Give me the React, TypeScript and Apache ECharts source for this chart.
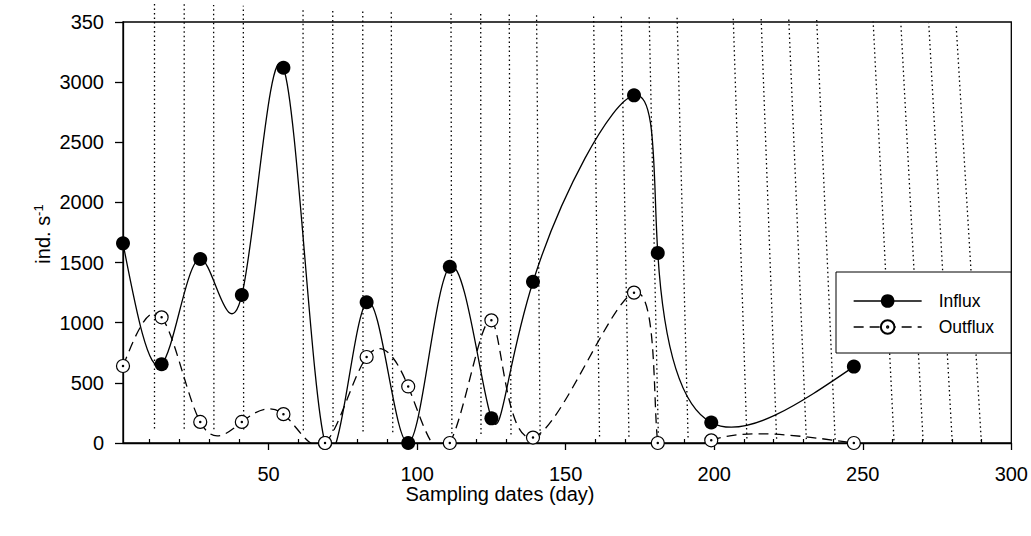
import React, { useEffect, useRef } from "react";
import * as echarts from "echarts";

// Sampling dates (day) and fluxes (ind. s^-1)
const days = [1, 14, 27, 41, 55, 69, 83, 97, 111, 125, 139, 173, 181, 199, 247];
const influx = [1660, 655, 1530, 1230, 3120, 0, 1170, 0, 1465, 205, 1340, 2890, 1580, 170, 635];
const outflux = [640, 1045, 175, 175, 240, 0, 715, 470, 0, 1020, 45, 1250, 0, 22, 0];

// Axis ticks and labels
const xMajorTicks = [50, 100, 150, 200, 250, 300];
const xMinorTicks = [10, 20, 30, 40, 60, 70, 80, 90, 110, 120, 130, 140, 160, 170, 180, 190, 210, 220, 230, 240, 260, 270, 280, 290];
const yTickValues = [0, 500, 1000, 1500, 2000, 2500, 3000, 3500];
const yTickLabels = ["0", "500", "1000", "1500", "2000", "2500", "3000", "350"];

// Dotted reference lines (slightly skewed in the original): bottom day/value, top day/value
const gridBottomDays = [11.6, 21.6, 31.6, 41.6, 61.7, 71.7, 81.8, 91.8, 111.7, 121.5, 131.6, 141.4, 161.4, 171.3, 181.2, 191.2, 211.0, 221.0, 231.0, 240.7, 260.5, 270.3, 280.1, 289.9];
const gridBottomVals = [120, 118, 115, 112, 105, 100, 95, 90, 80, 75, 70, 65, 55, 52, 48, 45, 38, 35, 32, 28, 22, 20, 17, 15];
const gridTopDays = [11.6, 21.6, 31.5, 41.5, 61.6, 71.6, 81.7, 91.3, 111.4, 121.4, 131.0, 140.2, 159.4, 168.7, 178.1, 187.5, 206.4, 215.8, 225.1, 234.5, 253.5, 262.8, 272.2, 281.4];
const gridTopVals = [3654, 3648, 3642, 3635, 3623, 3617, 3610, 3605, 3592, 3586, 3580, 3575, 3563, 3557, 3551, 3545, 3533, 3528, 3522, 3516, 3504, 3498, 3493, 3487];

const FONT = "'Liberation Sans', Arial, Helvetica, sans-serif";
const OUT_SYMBOL =
  "path://M0,10 A10,10 0 1,1 20,10 A10,10 0 1,1 0,10 Z M9,10 A1,1 0 1,1 11,10 A1,1 0 1,1 9,10 Z";

// Derivatives of a natural cubic spline v(t) through knots (ts, vs)
function splineDerivs(ts: number[], vs: number[]): number[] {
  const n = ts.length;
  const h: number[] = [];
  for (let i = 0; i < n - 1; i++) h.push(ts[i + 1] - ts[i]);
  const a = new Array(n).fill(0);
  const b = new Array(n).fill(1);
  const c = new Array(n).fill(0);
  const d = new Array(n).fill(0);
  for (let i = 1; i < n - 1; i++) {
    a[i] = h[i - 1];
    b[i] = 2 * (h[i - 1] + h[i]);
    c[i] = h[i];
    d[i] = 6 * ((vs[i + 1] - vs[i]) / h[i] - (vs[i] - vs[i - 1]) / h[i - 1]);
  }
  const cp = new Array(n).fill(0);
  const dp = new Array(n).fill(0);
  cp[0] = c[0] / b[0];
  dp[0] = d[0] / b[0];
  for (let i = 1; i < n; i++) {
    const m = b[i] - a[i] * cp[i - 1];
    cp[i] = c[i] / m;
    dp[i] = (d[i] - a[i] * dp[i - 1]) / m;
  }
  const M = new Array(n).fill(0);
  M[n - 1] = dp[n - 1];
  for (let i = n - 2; i >= 0; i--) M[i] = dp[i] - cp[i] * M[i + 1];
  const out: number[] = [];
  for (let i = 0; i < n - 1; i++) out.push((vs[i + 1] - vs[i]) / h[i] - (h[i] * (2 * M[i] + M[i + 1])) / 6);
  const l = n - 1;
  out.push((vs[l] - vs[l - 1]) / h[l - 1] + (h[l - 1] * (M[l - 1] + 2 * M[l])) / 6);
  return out;
}

// Parametric (uniform-parameter) spline curve drawn through the series' own points
function curveSeries(ys: number[], dash: number[] | null, z: number) {
  return {
    type: "custom",
    silent: true,
    clip: true,
    z,
    xAxisIndex: 0,
    encode: { x: 0, y: 1 },
    data: days.map((dd, i) => [dd, ys[i]]),
    renderItem: (params: any, api: any) => {
      const i = params.dataIndex;
      if (i >= days.length - 1) return null;
      const pts = days.map((dd, k) => api.coord([dd, ys[k]]));
      const ts = pts.map((_p: number[], k: number) => k);
      const dxs = splineDerivs(ts, pts.map((p: number[]) => p[0]));
      const dys = splineDerivs(ts, pts.map((p: number[]) => p[1]));
      const p0 = pts[i];
      const p1 = pts[i + 1];
      return {
        type: "bezierCurve",
        shape: {
          x1: p0[0], y1: p0[1], x2: p1[0], y2: p1[1],
          cpx1: p0[0] + dxs[i] / 3,
          cpy1: p0[1] + dys[i] / 3,
          cpx2: p1[0] - dxs[i + 1] / 3,
          cpy2: p1[1] - dys[i + 1] / 3,
        },
        style: { stroke: "#000", fill: null, lineWidth: 1.3, lineDash: dash || undefined },
      };
    },
  };
}

export default function App() {
  const ref = useRef<HTMLDivElement>(null);

  useEffect(() => {
    if (!ref.current) return;
    const chart = echarts.init(ref.current, null, { renderer: "svg" });

    const influxData = days.map((d, i) => [d, influx[i]]);
    const outfluxData = days.map((d, i) => [d, outflux[i]]);
    const gridData = gridBottomDays.map((b, i) => [b, gridBottomVals[i], gridTopDays[i], gridTopVals[i]]);

    const option: any = {
      animation: false,
      textStyle: { fontFamily: FONT, color: "#000" },
      grid: {
        left: 123,
        right: 14,
        top: 22,
        bottom: 93,
        show: true,
        borderColor: "#000",
        borderWidth: 1.3,
        backgroundColor: "transparent",
      },
      legend: {
        data: [
          { name: "Influx", lineStyle: { opacity: 1, color: "#000", width: 1.3, type: "solid" } },
          { name: "Outflux", lineStyle: { opacity: 1, color: "#000", width: 1.3, type: [10, 6] } },
        ],
        orient: "vertical",
        left: 836,
        top: 272,
        padding: [20, 17, 17, 17],
        itemWidth: 68,
        itemHeight: 17,
        itemGap: 8,
        backgroundColor: "#fff",
        borderColor: "#000",
        borderWidth: 1,
        borderRadius: 0,
        selectedMode: false,
        textStyle: { fontSize: 17.5, color: "#000", fontFamily: FONT, padding: [0, 0, 0, 12] },
      },
      xAxis: [
        {
          type: "value",
          min: 1,
          max: 300,
          position: "bottom",
          axisLine: { show: true, onZero: false, lineStyle: { color: "#000", width: 1.3 } },
          axisTick: { show: true, customValues: xMajorTicks, length: 7, lineStyle: { color: "#000", width: 1.3 } },
          axisLabel: { customValues: xMajorTicks, fontSize: 20, color: "#000", margin: 21, fontFamily: FONT },
          splitLine: { show: false },
        },
        {
          type: "value",
          min: 1,
          max: 300,
          position: "bottom",
          axisLine: { show: false, onZero: false },
          axisTick: { show: true, inside: true, customValues: xMinorTicks, length: 4, lineStyle: { color: "#000", width: 1.2 } },
          axisLabel: { show: false },
          splitLine: { show: false },
        },
      ],
      yAxis: {
        type: "value",
        min: 0,
        max: 3500,
        interval: 500,
        axisLine: { show: true, lineStyle: { color: "#000", width: 1.3 } },
        axisTick: { show: true, length: 8, lineStyle: { color: "#000", width: 1.3 } },
        axisLabel: {
          fontSize: 20,
          color: "#000",
          margin: 19,
          fontFamily: FONT,
          formatter: (v: number) => {
            const i = yTickValues.indexOf(v);
            return i >= 0 ? yTickLabels[i] : "";
          },
        },
        splitLine: { show: false },
      },
      graphic: [
        {
          type: "text",
          x: 500,
          y: 494,
          style: {
            text: "Sampling dates (day)",
            fontSize: 20,
            fontFamily: FONT,
            fill: "#000",
            align: "center",
            verticalAlign: "middle",
          },
        },
        {
          type: "text",
          x: 43,
          y: 234,
          rotation: Math.PI / 2,
          style: {
            text: "{a|ind. s}{b|-1}",
            align: "center",
            verticalAlign: "middle",
            fill: "#000",
            rich: {
              a: { fontSize: 20, fontFamily: FONT, fill: "#000", lineHeight: 22 },
              b: { fontSize: 13, fontFamily: FONT, fill: "#000", verticalAlign: "top" },
            },
          },
        },
      ],
      series: [
        {
          name: "grid",
          type: "custom",
          silent: true,
          xAxisIndex: 0,
          z: 1,
          clip: false,
          encode: { x: [0, 2], y: [1, 3] },
          data: gridData,
          renderItem: (params: any, api: any) => {
            const p1 = api.coord([api.value(0), api.value(1)]);
            const p2 = api.coord([api.value(2), api.value(3)]);
            return {
              type: "line",
              shape: { x1: p1[0], y1: p1[1], x2: p2[0], y2: p2[1] },
              style: { stroke: "#000", lineWidth: 1.3, lineDash: [1.5, 3] },
            };
          },
        },
        curveSeries(influx, null, 2),
        curveSeries(outflux, [10, 6], 2),
        {
          name: "Influx",
          type: "line",
          xAxisIndex: 0,
          data: influxData,
          symbol: "circle",
          symbolSize: 14,
          showAllSymbol: true,
          silent: true,
          z: 3,
          itemStyle: { color: "#000" },
          lineStyle: { color: "#000", width: 1.3, opacity: 0 },
          emphasis: { disabled: true },
        },
        {
          name: "Outflux",
          type: "line",
          xAxisIndex: 0,
          data: outfluxData,
          symbol: OUT_SYMBOL,
          symbolKeepAspect: true,
          symbolSize: 13,
          showAllSymbol: true,
          silent: true,
          z: 4,
          itemStyle: { color: "#fff", borderColor: "#000", borderWidth: 1.2 },
          lineStyle: { color: "#000", width: 1.3, type: [10, 6], opacity: 0 },
          emphasis: { disabled: true },
        },
      ],
    };

    chart.setOption(option);
    return () => chart.dispose();
  }, []);

  return (
    <div
      ref={ref}
      style={{ position: "fixed", left: 0, top: 0, width: 1031, height: 536, background: "#fff" }}
    />
  );
}
